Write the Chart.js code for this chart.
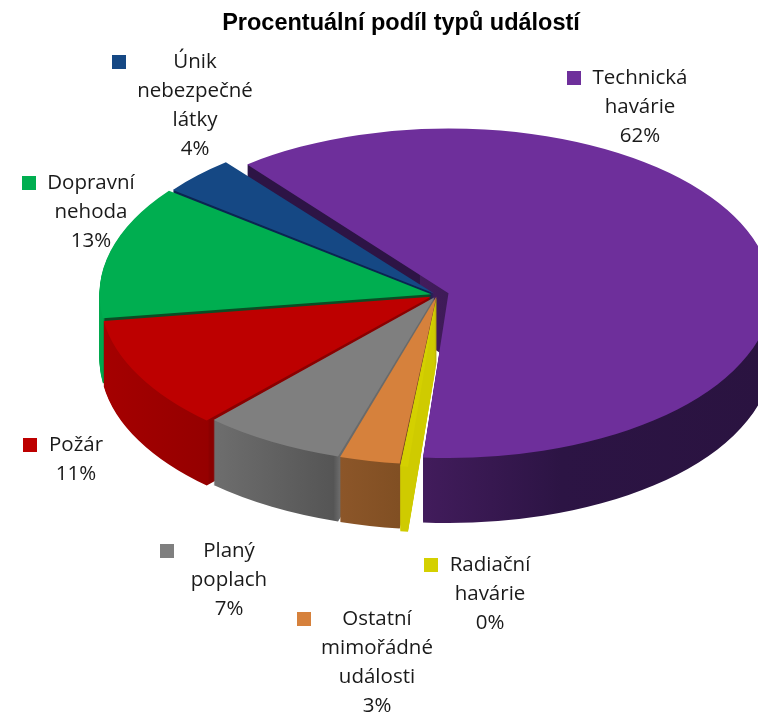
<!DOCTYPE html>
<html lang="cs">
<head>
<meta charset="utf-8">
<title>Procentuální podíl typů událostí</title>
<script src="https://cdn.jsdelivr.net/npm/chart.js@4"></script>
<style>
    html, body { margin: 0; padding: 0; background: #fff; overflow: hidden; }
    #wrap { position: relative; width: 758px; height: 715px; }
</style>
</head>
<body>
<div id="wrap"><canvas id="chart" width="758" height="715"></canvas></div>
<script>
const categories = [
    ['Technická', 'havárie'],
    ['Radiační', 'havárie'],
    ['Ostatní', 'mimořádné', 'události'],
    ['Planý', 'poplach'],
    ['Požár'],
    ['Dopravní', 'nehoda'],
    ['Únik', 'nebezpečné', 'látky']
];
const values = [62.25, 0.4, 3.0, 7.1, 10.9, 12.8, 3.7];
const topColors = ['#6e2f9b', '#d4d000', '#d6813c', '#7f7f7f', '#bd0000', '#00ae50', '#154884'];
const explode = [48, 8, 14, 20, 28, 24, 16];
const radiusTrim = [25, 2, 10, 12, 8, 6, 8];

// side wall shading, [page x, colour] left to right
const sideStops = [
    [[236, '#2d1445'], [408, '#2d1445'], [409, '#421c5c'], [550, '#2c1444'], [758, '#2a1340']],
    [[400, '#cfcb00'], [440, '#cfcb00']],
    [[340, '#8c5629'], [410, '#7f4e22']],
    [[215, '#6e6e6e'], [336, '#555555'], [342, '#6a6a6a'], [430, '#6a6a6a']],
    [[100, '#a60000'], [214, '#950000'], [216, '#8a0000'], [430, '#8a0000']],
    [[96, '#00a84d'], [109, '#00a84d'], [111, '#0a4d24'], [430, '#0a4d24']],
    [[170, '#0b2550'], [430, '#0b2550']]
];

// swatch left/top and text centre/first line for each label
const labelSpots = [
    { sx: 567, sy: 71, cx: 640, y: 78 },
    { sx: 424, sy: 558, cx: 490, y: 565 },
    { sx: 297, sy: 612, cx: 377, y: 619 },
    { sx: 160, sy: 544, cx: 229, y: 551 },
    { sx: 23, sy: 438, cx: 76, y: 445 },
    { sx: 22, sy: 176, cx: 91, y: 183 },
    { sx: 112, sy: 55, cx: 195, y: 62 }
];

const centerX = 437;
const centerY = 295;
const squash = 0.51;
const depth = 65;
const pieRadius = 336;

const tiltPlugin = {
    id: 'tilt',
    beforeDatasetDraw(chart, args) {
        const ctx = chart.ctx;
        const arcs = args.meta.data;
        const dx = centerX - arcs[0].x;
        const place = (d) => {
            ctx.setTransform(1, 0, 0, squash, dx, 0);
            ctx.transform(1, 0, 0, 1, 0, (centerY + d) / squash - arcs[0].y);
        };
        arcs.forEach((arc, i) => { arc.outerRadius = pieRadius - radiusTrim[i]; });
        const fills = sideStops.map((stops) => {
            const g = ctx.createLinearGradient(stops[0][0] - dx, 0, stops[stops.length - 1][0] - dx, 0);
            const span = stops[stops.length - 1][0] - stops[0][0];
            stops.forEach(([x, c]) => g.addColorStop((x - stops[0][0]) / span, c));
            return g;
        });
        ctx.save();
        for (let d = depth; d > 0; d--) {
            place(d);
            arcs.forEach((arc, i) => {
                const own = arc.options;
                arc.options = {
                    backgroundColor: fills[i],
                    borderColor: fills[i],
                    borderWidth: 0,
                    borderAlign: 'center',
                    borderRadius: 0,
                    circular: true,
                    spacing: 0,
                    offset: own.offset
                };
                arc.draw(ctx);
                arc.options = own;
            });
        }
        ctx.restore();
        ctx.save();
        place(0);
    },
    afterDatasetDraw(chart) {
        chart.ctx.restore();
    }
};

const labelPlugin = {
    id: 'sliceLabels',
    afterDraw(chart) {
        const ctx = chart.ctx;
        ctx.save();
        ctx.font = '20.5px "Open Sans"';
        ctx.textAlign = 'center';
        ctx.textBaseline = 'middle';
        categories.forEach((lines, i) => {
            const spot = labelSpots[i];
            ctx.fillStyle = topColors[i];
            ctx.fillRect(spot.sx, spot.sy, 14, 14);
            ctx.fillStyle = '#1a1a1a';
            lines.concat(Math.round(values[i]) + '%').forEach((line, n) => {
                ctx.fillText(line, spot.cx, spot.y + n * 29);
            });
        });
        ctx.restore();
    }
};

new Chart(document.getElementById('chart'), {
    type: 'pie',
    data: {
        labels: categories.map((c) => c.join(' ')),
        datasets: [{
            data: values,
            backgroundColor: topColors,
            borderWidth: 0,
            offset: explode,
            clip: false
        }]
    },
    options: {
        responsive: false,
        animation: false,
        rotation: -38.9,
        radius: pieRadius,
        layout: { padding: { left: 44, top: 9 } },
        plugins: {
            legend: { display: false },
            tooltip: { enabled: false },
            title: {
                display: true,
                text: 'Procentuální podíl typů událostí',
                color: '#000',
                font: { family: '"Liberation Sans"', size: 23.5, weight: 'bold' },
                padding: 0
            }
        }
    },
    plugins: [tiltPlugin, labelPlugin]
});
</script>
</body>
</html>
